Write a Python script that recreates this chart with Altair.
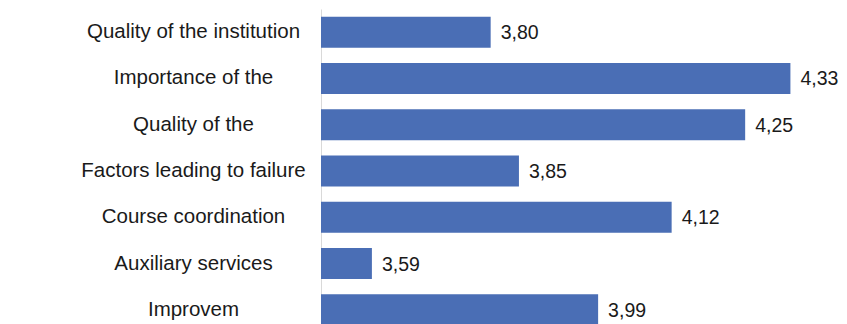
import altair as alt
import pandas as pd

categories = [
    "Quality of the institution",
    "Importance of the",
    "Quality of the",
    "Factors leading to failure",
    "Course coordination",
    "Auxiliary services",
    "Improvem",
]
values = [3.80, 4.33, 4.25, 3.85, 4.12, 3.59, 3.99]

df = pd.DataFrame({"category": categories, "value": values})

FONT = "Liberation Sans"
BAR = "#4A6EB5"

y_enc = alt.Y(
    "category:N",
    sort=categories,
    scale=alt.Scale(paddingInner=0.33, paddingOuter=0.165),
    axis=alt.Axis(
        title=None,
        ticks=False,
        tickSize=0,
        domain=True,
        domainColor="#d9d9d9",
        domainWidth=1,
        labelAlign="center",
        labelBaseline="middle",
        labelPadding=128,
        labelFont=FONT,
        labelFontSize=20.5,
        labelColor="#1a1a1a",
        labelLimit=0,
        grid=False,
    ),
)
x_enc = alt.X(
    "value:Q",
    scale=alt.Scale(domain=[3.5, 4.4], zero=False, nice=False),
    axis=None,
)

bars = alt.Chart(df).mark_bar(color=BAR, clip=True).encode(
    x=x_enc, x2=alt.datum(3.5), y=y_enc
)

labels = (
    alt.Chart(df)
    .transform_calculate(lbl="replace(format(datum.value, '.2f'), '.', ',')")
    .mark_text(align="left", baseline="middle", dx=10, dy=1, font=FONT, fontSize=19.5, color="#1a1a1a")
    .encode(x=x_enc, y=alt.Y("category:N", sort=categories), text="lbl:N")
)

chart = (
    alt.layer(bars, labels)
    .properties(
        width=509,
        height=324,
        autosize=alt.AutoSizeParams(type="none"),
        padding={"left": 313, "top": 1, "right": 9, "bottom": 0},
    )
    .configure(background="white")
    .configure_view(strokeWidth=0, stroke="transparent")
)

chart.save("out.html", embed_options={"renderer": "svg", "actions": False})
